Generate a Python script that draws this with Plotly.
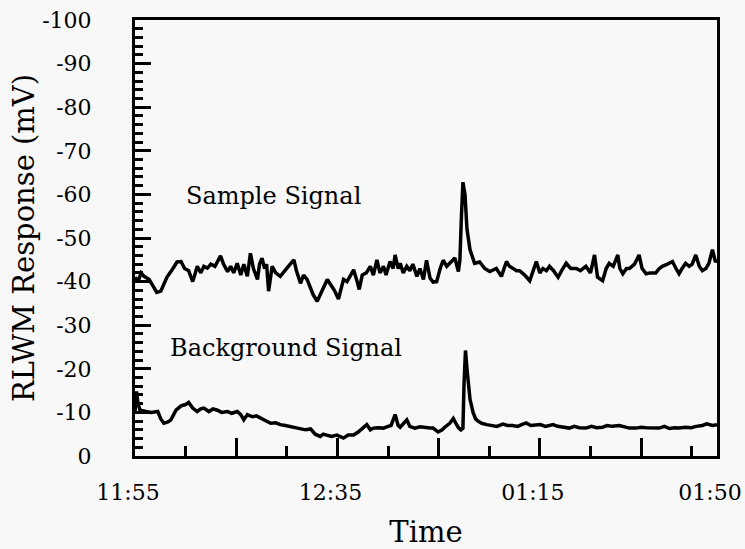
import plotly.graph_objects as go

# Time in minutes after 11:55
sample_t = [0, 0.6, 1.2, 1.8, 2.8, 3.5, 4.3, 5.1, 6.3, 7.5, 8.3, 9.1, 9.8, 10.6, 11.4, 11.8,
            12.3, 13.0, 13.6, 14.3, 15.0, 15.8, 16.3, 16.9, 17.5, 18.3, 18.9, 19.5, 20.2, 20.9,
            21.5, 22.2, 22.8, 23.4, 24.2, 24.6, 25.1, 25.6, 26.0, 26.4, 27.1, 27.8, 28.7, 29.5,
            30.3, 31.4, 31.9, 32.7, 33.3, 34.0, 34.7, 35.2, 36.0, 36.6, 37.3, 38.0, 38.6, 39.4,
            40.2, 40.8, 41.2, 41.9, 42.7, 43.2, 43.9, 44.3, 44.9, 45.7, 46.5, 47.1, 47.8, 48.4,
            49.1, 49.6, 50.4, 51.0, 51.4, 52.0, 52.4, 53.0, 53.7, 54.3, 54.9, 55.7, 56.3, 57.0,
            57.6, 58.3, 58.9, 59.6, 60.3, 60.9, 61.6, 62.2, 63.2, 63.9, 64.2, 64.5, 64.8, 65.2,
            65.6, 66.2, 66.8, 67.1, 68.1, 69.1, 70.1, 71.4, 72.4, 73.4, 74.0, 74.7, 75.4, 76.0,
            77.0, 78.0, 78.6, 79.3, 80.0, 80.6, 81.3, 81.9, 82.7, 83.6, 84.3, 85.2, 86.1, 87.2,
            88.0, 89.1, 90.0, 90.8, 91.4, 92.4, 93.1, 93.7, 94.5, 95.4, 95.8, 96.4, 97.1, 97.7,
            98.7, 99.6, 100.2, 101.0, 101.8, 102.9, 103.6, 104.2, 105.2, 106.2, 106.9, 107.5,
            108.1, 108.8, 109.5, 110.1, 110.8, 111.5, 112.1, 112.8, 113.4, 114.1, 114.7, 115.0]
sample_mv = [-41.0, -40.0, -42.0, -41.2, -40.5, -39.0, -37.5, -37.8, -41.0, -43.0, -44.5, -44.6,
             -43.0, -42.5, -40.0, -41.5, -43.5, -42.0, -43.5, -43.1, -44.0, -43.5, -44.5, -45.9,
             -44.0, -42.3, -43.5, -42.0, -44.2, -41.5, -44.0, -41.2, -46.5, -43.0, -40.5, -44.0,
             -45.4, -43.0, -44.0, -37.8, -43.5, -42.0, -41.2, -42.5, -43.5, -45.0, -42.5, -39.6,
             -41.5, -40.5, -38.5, -37.0, -35.5, -37.0, -38.5, -40.5, -39.4, -38.0, -36.0, -38.5,
             -40.5, -40.0, -41.5, -42.7, -40.0, -38.2, -41.5, -42.0, -43.5, -41.5, -45.0, -42.0,
             -43.5, -41.5, -44.6, -43.0, -46.1, -43.0, -44.2, -42.0, -43.5, -42.5, -44.0, -41.2,
             -43.0, -40.5, -44.9, -40.8, -39.9, -40.0, -43.0, -44.9, -43.5, -44.2, -45.4, -42.3,
             -45.0, -55.0, -62.8, -60.0, -52.0, -47.3, -45.0, -44.2, -44.5, -43.0, -42.3, -43.0,
             -41.2, -44.6, -43.5, -43.0, -42.5, -42.5, -41.5, -40.2, -42.0, -44.6, -42.0, -43.0,
             -42.5, -43.5, -42.5, -41.0, -42.5, -44.2, -43.0, -43.0, -42.5, -43.5, -42.0, -46.1,
             -41.0, -40.2, -43.0, -44.2, -43.5, -46.1, -43.0, -41.8, -43.0, -43.0, -44.0, -46.1,
             -43.0, -41.8, -42.0, -42.0, -43.0, -43.5, -44.0, -44.6, -43.0, -41.8, -43.0, -44.2,
             -43.5, -44.0, -46.1, -43.5, -42.5, -43.0, -44.2, -47.3, -44.5, -45.0]

background_t = [0, 0.3, 0.6, 1.0, 2.2, 3.2, 4.5, 5.1, 5.7, 6.5, 7.1, 8.1, 9.1, 10.0, 10.6, 11.4,
                12.3, 13.0, 13.6, 14.6, 15.4, 16.3, 17.1, 18.3, 19.1, 20.2, 20.9, 21.5, 22.2,
                23.2, 24.0, 24.8, 25.8, 26.8, 27.8, 28.7, 29.7, 30.7, 31.7, 32.7, 33.7, 34.7,
                35.6, 36.6, 37.2, 37.9, 38.8, 39.9, 40.6, 41.2, 42.1, 43.2, 44.1, 44.9, 45.8,
                46.5, 47.1, 48.0, 49.1, 50.0, 50.6, 51.4, 52.0, 52.4, 53.0, 53.7, 54.3, 55.3,
                56.3, 57.3, 58.3, 58.9, 59.9, 60.7, 61.2, 62.2, 62.9, 63.4, 63.9, 64.4, 64.8,
                65.0, 65.3, 65.6, 66.2, 66.8, 67.3, 67.8, 68.5, 69.5, 70.5, 71.5, 72.7, 73.6,
                74.6, 75.6, 76.4, 77.3, 78.2, 79.2, 80.1, 81.1, 82.6, 83.5, 84.5, 85.8, 86.8,
                87.8, 89.1, 90.2, 91.2, 92.4, 93.3, 94.3, 95.7, 96.7, 97.7, 99.0, 100.0, 101.0,
                102.3, 103.6, 104.6, 105.6, 106.6, 107.5, 108.8, 109.9, 110.9, 112.1, 113.0,
                114.1, 115.0]
background_mv = [-10.0, -14.8, -12.0, -10.5, -10.2, -10.0, -10.2, -8.5, -7.5, -7.8, -8.3, -10.5,
                 -11.5, -11.8, -12.3, -11.0, -10.2, -10.8, -11.0, -10.2, -10.8, -10.5, -10.0,
                 -10.2, -9.8, -10.2, -9.5, -8.3, -9.5, -9.0, -9.2, -8.7, -8.0, -7.5, -7.6, -7.2,
                 -7.0, -6.8, -6.6, -6.4, -6.0, -6.2, -5.0, -4.5, -5.0, -4.8, -4.5, -4.8, -4.3,
                 -4.1, -4.8, -4.8, -5.5, -6.2, -7.2, -6.0, -6.4, -6.5, -6.4, -6.8, -7.0, -9.5,
                 -7.0, -6.6, -7.5, -8.3, -6.8, -6.4, -6.7, -6.5, -6.4, -6.4, -5.5, -6.0, -6.6,
                 -7.5, -8.6, -7.5, -6.5, -6.0, -6.4, -16.0, -24.2, -20.0, -13.0, -10.0, -8.5,
                 -8.0, -7.5, -7.2, -7.0, -6.8, -7.3, -7.0, -7.0, -6.8, -7.2, -7.6, -7.0, -7.0,
                 -7.2, -6.8, -7.2, -6.8, -6.6, -6.4, -6.8, -6.5, -6.4, -6.8, -6.5, -6.6, -7.0,
                 -6.8, -7.0, -6.6, -6.4, -6.4, -6.6, -6.5, -6.4, -6.4, -6.8, -6.3, -6.5, -6.4,
                 -6.6, -6.5, -6.8, -7.0, -7.4, -7.0, -7.2]

x_tickvals = [0, 20, 40, 60, 80, 100, 115]
x_ticktext = ["11:55", "", "12:35", "", "01:15", "", "01:50"]
y_tickvals = [-100, -90, -80, -70, -60, -50, -40, -30, -20, -10, 0]
y_ticktext = ["-100", "-90", "-80", "-70", "-60", "-50", "-40", "-30", "-20", "-10", "0"]

FONT = "DejaVu Serif"
BG = "#f8f8f8"

fig = go.Figure()
fig.add_trace(go.Scatter(x=sample_t, y=sample_mv, mode="lines",
                         line=dict(color="black", width=3.5), showlegend=False))
fig.add_trace(go.Scatter(x=background_t, y=background_mv, mode="lines",
                         line=dict(color="black", width=3.5), showlegend=False))

fig.add_annotation(x=27.4, y=-59.6, text="Sample Signal", showarrow=False,
                   font=dict(family=FONT, size=24, color="black"))
fig.add_annotation(x=29.8, y=-24.7, text="Background Signal", showarrow=False,
                   font=dict(family=FONT, size=24, color="black"))

fig.update_layout(
    width=745, height=549,
    margin=dict(l=135, r=28, t=20, b=93, autoexpand=False),
    paper_bgcolor=BG, plot_bgcolor=BG,
    font=dict(family=FONT, color="black"),
    xaxis=dict(
        range=[0, 115], showgrid=False, zeroline=False, automargin=False,
        showline=True, linecolor="black", linewidth=3, mirror=True,
        tickmode="array", tickvals=x_tickvals, ticktext=x_ticktext,
        ticks="inside", ticklen=18, tickwidth=2.5, tickcolor="black",
        ticklabelstandoff=15, ticklabelshift=-7, ticklabeloverflow="allow",
        tickfont=dict(family=FONT, size=22, color="black"),
        minor=dict(dtick=10, tick0=0, ticks="inside", ticklen=10, tickwidth=2.5,
                   tickcolor="black", showgrid=False),
        title=dict(text="Time", font=dict(family=FONT, size=29, color="black"), standoff=46),
    ),
    yaxis=dict(
        range=[0, -100], showgrid=False, zeroline=False, automargin=False,
        showline=True, linecolor="black", linewidth=3, mirror=True,
        tickmode="array", tickvals=y_tickvals, ticktext=y_ticktext,
        ticks="inside", ticklen=16, tickwidth=2.5, tickcolor="black",
        ticklabelstandoff=36,
        tickfont=dict(family=FONT, size=22, color="black"),
        minor=dict(dtick=2, tick0=0, ticks="inside", ticklen=8, tickwidth=2.5,
                   tickcolor="black", showgrid=False),
        title=dict(text="RLWM Response (mV)", font=dict(family=FONT, size=29, color="black"),
                   standoff=0),
    ),
)

fig.write_html("out.html")
